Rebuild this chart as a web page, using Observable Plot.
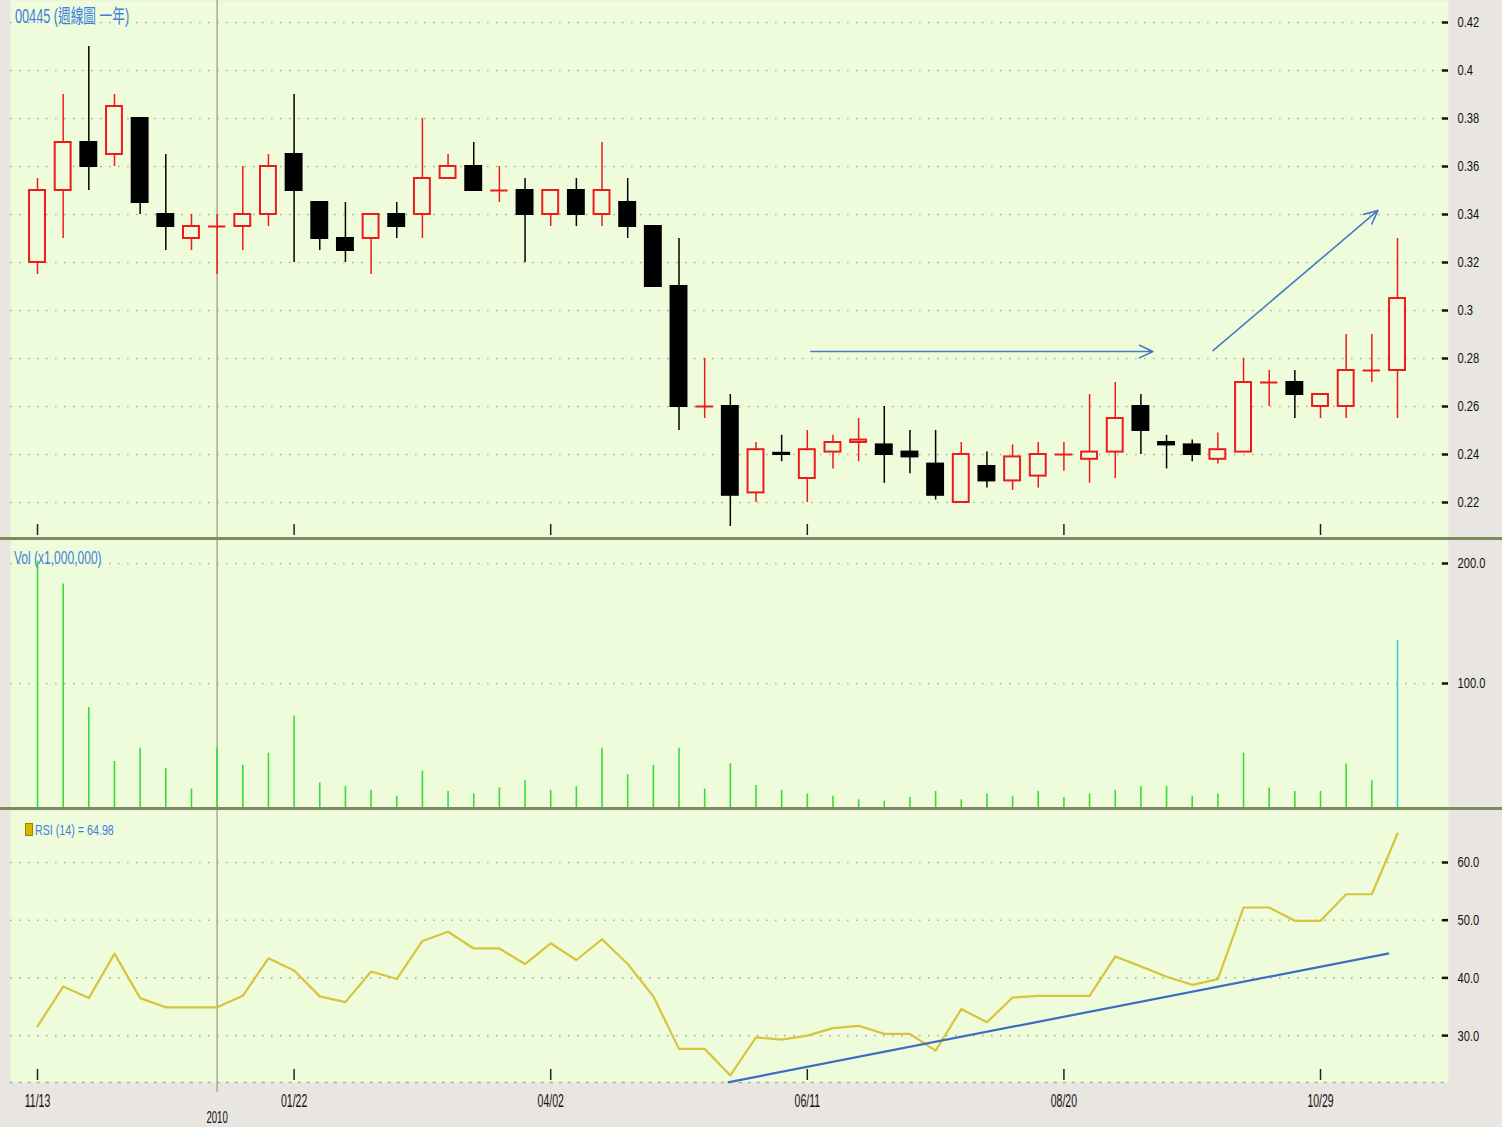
<!DOCTYPE html>
<html><head><meta charset="utf-8">
<script src="https://cdn.jsdelivr.net/npm/d3@7"></script>
<script src="https://cdn.jsdelivr.net/npm/@observablehq/plot@0.6"></script>
<style>
html,body{margin:0;padding:0;background:#e9e6e2;}
#wrap{position:relative;width:1502px;height:1127px;overflow:hidden;background:#e9e6e2;}
.panel{position:absolute;left:0;}
.sep{position:absolute;left:0;width:1502px;height:3px;background:#7e8b5d;}
.lbl{position:absolute;color:#3f7fd9;font-family:"Liberation Sans","Noto Sans CJK TC",sans-serif;white-space:nowrap;transform-origin:0 0;line-height:1;}
.sq{position:absolute;left:25px;top:823px;width:6px;height:11px;background:#d8b600;border:1px solid #9a8400;}
</style></head>
<body><div id="wrap"></div>
<script>
// ---------------- data (weekly, 2009-11-13 .. 2010-11-19) ----------------
const openP  = [0.32,0.35,0.37,0.365,0.38,0.34,0.33,0.335,0.335,0.34, 0.365,0.345,0.33,0.33,0.34,0.34,0.355,0.36,0.35,0.35, 0.34,0.35,0.34,0.345,0.335,0.31,0.26,0.26,0.224,0.2405, 0.23,0.241,0.245,0.244,0.241,0.236,0.22,0.235,0.229,0.231, 0.24,0.238,0.241,0.26,0.245,0.244,0.238,0.241,0.27,0.27, 0.26,0.26,0.275,0.275];
const closeP = [0.35,0.37,0.36,0.385,0.345,0.335,0.335,0.335,0.34,0.36, 0.35,0.33,0.325,0.34,0.335,0.355,0.36,0.35,0.35,0.34, 0.35,0.34,0.35,0.335,0.31,0.26,0.26,0.223,0.242,0.24, 0.242,0.245,0.246,0.24,0.239,0.223,0.24,0.229,0.239,0.24, 0.24,0.241,0.255,0.25,0.244,0.24,0.242,0.27,0.27,0.265, 0.265,0.275,0.275,0.305];
const highP  = [0.355,0.39,0.41,0.39,0.38,0.365,0.34,0.34,0.36,0.365, 0.39,0.345,0.345,0.34,0.345,0.38,0.365,0.37,0.36,0.355, 0.35,0.355,0.37,0.355,0.335,0.33,0.28,0.265,0.245,0.248, 0.25,0.248,0.255,0.26,0.25,0.25,0.245,0.241,0.244,0.245, 0.245,0.265,0.27,0.265,0.248,0.246,0.249,0.28,0.275,0.275, 0.265,0.29,0.29,0.33];
const lowP   = [0.315,0.33,0.35,0.36,0.34,0.325,0.325,0.315,0.325,0.335, 0.32,0.325,0.32,0.315,0.33,0.33,0.355,0.35,0.345,0.32, 0.335,0.335,0.335,0.33,0.31,0.25,0.255,0.21,0.22,0.237, 0.22,0.234,0.237,0.228,0.232,0.221,0.22,0.226,0.225,0.226, 0.233,0.228,0.23,0.24,0.234,0.237,0.236,0.241,0.26,0.255, 0.255,0.255,0.27,0.255];
const volume = [202,183,80,35,46,29,12,46,32,42, 73,17,14,11,6,27,10,8,13,19, 11,14,46,24,32,46,12,33,15,11, 8,6,3,2,5,10,3,8,6,10, 5,8,11,14,14,6,8,42,13,10, 10,33,19,136];
const rsi    = [31.6,38.5,36.5,44.2,36.5,34.9,34.9,34.9,36.9,43.4, 41.3,36.8,35.8,41.1,39.8,46.4,48.0,45.1,45.1,42.4, 46.0,43.1,46.7,42.4,36.8,27.7,27.7,23.1,29.7,29.3, 30.0,31.3,31.7,30.3,30.3,27.4,34.6,32.3,36.6,36.9, 36.9,36.9,43.7,42.0,40.2,38.8,39.8,52.2,52.2,49.9, 49.9,54.5,54.5,64.98];

const xTickIdx    = [0,10,20,30,40,50];
const xTickLabels = ["11/13","01/22","04/02","06/11","08/20","10/29"];
const yearIdx = [7];
const yearLabel = ["2010"];
const priceTicks = [0.22,0.24,0.26,0.28,0.30,0.32,0.34,0.36,0.38,0.40,0.42];
const volTicks = [100,200];
const rsiTicks = [30,40,50,60];

// hand-drawn annotations (in data units: week index, price / RSI)
const priceArrows = [
  {x1:30.14, y1:0.2829, x2:43.47, y2:0.2829},
  {x1:45.81, y1:0.2833, x2:52.24, y2:0.3417}
];
const rsiTrend = [{x1:26.9, y1:21.9, x2:52.67, y2:44.25}];

// ---------------- layout ----------------
const W = 1502, ML = 10, MR = 54;
const PX = (1397 - 37) / 53;               // px per week
const xDomain = [-27 / PX, 53 + 51 / PX];
const BG = "#eefcdc", GRID = "#aab59a", RED = "#ee1b1b";
const FONT = '"Liberation Sans",Arial,sans-serif';

const candles = openP.map((o, i) => ({i, o, c: closeP[i], h: highP[i], l: lowP[i], up: closeP[i] >= o}));
const bodies = candles.filter(d => d.o !== d.c);
const dojis = candles.filter(d => d.o === d.c);
const vols = volume.map((v, i) => ({i, v, last: i === volume.length - 1}));
const rsiData = rsi.map((v, i) => ({i, v}));

const common = {
  width: W, marginLeft: ML, marginRight: MR,
  x: {type: "linear", domain: xDomain, axis: null},
  style: {background: "transparent", fontFamily: FONT, fontSize: "15px", color: "#111", overflow: "visible"}
};
const grid = (ticks) => Plot.ruleY(ticks, {stroke: GRID, strokeWidth: 1.6, strokeDasharray: "1.6,7.4"});
const dashes = (ticks) => Plot.ruleY(ticks, {stroke: "#111", strokeWidth: 2.5, insetLeft: W - ML - MR - 6});
const yLabels = (ticks, fmt) => Plot.axisY(ticks, {anchor: "right", label: null, tickSize: 0, tickPadding: 9, tickFormat: fmt, fontSize: 15.5});

// ---------------- price panel ----------------
const priceH = 537;
const price = Plot.plot({
  ...common, height: priceH, marginTop: 0, marginBottom: 0,
  y: {domain: [0.42 - (priceH - 22) / 2400, 0.42 + 22 / 2400], axis: null},
  marks: [
    Plot.frame({fill: BG, stroke: null}),
    grid(priceTicks),
    Plot.ruleX(yearIdx, {stroke: "#a3ab93", strokeWidth: 1.5}),
    Plot.ruleX(xTickIdx, {stroke: "#222", strokeWidth: 1.5, insetTop: priceH - 13, insetBottom: 2}),
    Plot.ruleX(candles, {x: "i", y1: "l", y2: "h", stroke: d => d.up ? RED : "#000", strokeWidth: 1.5}),
    Plot.rect(bodies, {x1: d => d.i - 0.31, x2: d => d.i + 0.31, y1: "o", y2: "c",
      fill: d => d.up ? BG : "#000", stroke: d => d.up ? RED : "#000", strokeWidth: 2}),
    Plot.ruleY(dojis, {y: "o", x1: d => d.i - 0.34, x2: d => d.i + 0.34, stroke: d => d.up ? RED : "#000", strokeWidth: 2}),
    Plot.arrow(priceArrows, {x1: "x1", y1: "y1", x2: "x2", y2: "y2", stroke: "#4a79c4", strokeWidth: 1.6, headLength: 14, headAngle: 50}),
    dashes(priceTicks),
    yLabels(priceTicks, d => String(+d.toFixed(2)))
  ]
});

// ---------------- volume panel ----------------
const volH = 267;
const volMin = -(volH - 263) / 1.2;
const vol = Plot.plot({
  ...common, height: volH, marginTop: 0, marginBottom: 0,
  y: {domain: [volMin, 200 + 23 / 1.2], axis: null},
  marks: [
    Plot.frame({fill: BG, stroke: null}),
    grid(volTicks),
    Plot.ruleX(yearIdx, {stroke: "#a3ab93", strokeWidth: 1.5}),
    Plot.ruleX(vols, {x: "i", y1: () => volMin, y2: "v", stroke: d => d.last ? "#37cfe0" : "#38dc38", strokeWidth: 1.6}),
    dashes(volTicks),
    yLabels(volTicks, d => d.toFixed(1))
  ]
});

// ---------------- RSI panel ----------------
const rsiH = 317, rsiMB = 45, rsiPlotH = rsiH - rsiMB;
const rsiMin = 60 - (rsiPlotH - 52) / 5.77, rsiMax = 60 + 52 / 5.77;
const rsiPlot = Plot.plot({
  ...common, height: rsiH, marginTop: 0, marginBottom: rsiMB,
  y: {domain: [rsiMin, rsiMax], axis: null},
  marks: [
    Plot.frame({fill: BG, stroke: null}),
    grid(rsiTicks),
    Plot.frame({anchor: "bottom", stroke: GRID, strokeWidth: 1.6, strokeDasharray: "1.6,7.4"}),
    Plot.ruleX(yearIdx, {stroke: "#a3ab93", strokeWidth: 1.5}),
    Plot.ruleX(xTickIdx, {stroke: "#222", strokeWidth: 1.5, insetTop: rsiPlotH - 13, insetBottom: 2}),
    Plot.line(rsiData, {x: "i", y: "v", stroke: "#d6c43c", strokeWidth: 2.2}),
    Plot.link(rsiTrend, {x1: "x1", y1: "y1", x2: "x2", y2: "y2", stroke: "#3e6cc2", strokeWidth: 2.2}),
    dashes(rsiTicks),
    yLabels(rsiTicks, d => d.toFixed(1)),
    Plot.axisX(xTickIdx, {anchor: "bottom", label: null, tickSize: 0, tickPadding: 12, tickFormat: (d, k) => xTickLabels[k], fontSize: 17.5}),
    Plot.axisX(yearIdx, {anchor: "bottom", label: null, tickSize: 10, tickPadding: 19, stroke: "#a3ab93", strokeWidth: 1.5, tickFormat: (d, k) => yearLabel[k], fontSize: 16})
  ]
});

// ---------------- assemble ----------------
const wrap = document.getElementById("wrap");
function place(node, top) { node.classList.add("panel"); node.style.top = top + "px"; wrap.appendChild(node); }
place(price, 0);
place(vol, 540);
place(rsiPlot, 810);
// narrow the axis lettering, as in the reference (condensed face)
function narrow(sel, s) {
  d3.selectAll(sel).each(function () {
    const t = this.getAttribute("transform") || "";
    this.setAttribute("transform", t + " scale(" + s + ",1)");
  });
}
narrow('#wrap g[aria-label="y-axis tick label"] text', 0.72);
narrow('#wrap g[aria-label="x-axis tick label"] text', 0.6);
function sep(top) { const d = document.createElement("div"); d.className = "sep"; d.style.top = top + "px"; wrap.appendChild(d); }
sep(537); sep(807);
function label(html, x, y, size, sx) { const d = document.createElement("div"); d.className = "lbl"; d.innerHTML = html; d.style.left = x + "px"; d.style.top = y + "px"; d.style.fontSize = size + "px"; d.style.transform = "scaleX(" + sx + ")"; wrap.appendChild(d); }
label("00445 (週線圖 一年)", 15, 7, 19.5, 0.65);
label("Vol (x1,000,000)", 14, 549, 18.5, 0.65);
const sq = document.createElement("div"); sq.className = "sq"; wrap.appendChild(sq);
label("RSI (14) = 64.98", 35, 822, 15.5, 0.69);
</script>
</body></html>
